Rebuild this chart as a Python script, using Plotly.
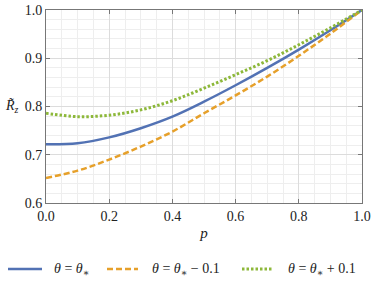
import plotly.graph_objects as go

p = [0.0, 0.1, 0.2, 0.3, 0.4, 0.5, 0.6, 0.7, 0.8, 0.9, 1.0]
r_star = [0.722, 0.724, 0.736, 0.755, 0.779, 0.810, 0.844, 0.880, 0.918, 0.958, 1.0]
r_minus = [0.652, 0.667, 0.690, 0.717, 0.748, 0.786, 0.823, 0.862, 0.905, 0.951, 1.0]
r_plus = [0.786, 0.779, 0.782, 0.793, 0.812, 0.838, 0.866, 0.895, 0.928, 0.963, 1.0]

names = ["<i>θ</i> = <i>θ</i><sub>∗</sub>",
         "<i>θ</i> = <i>θ</i><sub>∗</sub> − 0.1",
         "<i>θ</i> = <i>θ</i><sub>∗</sub> + 0.1"]
colors = ["#5272b4", "#e6a02a", "#8db83a"]
dashes = ["solid", "6px,3px", "2.5px,2px"]
widths = [2.5, 2.5, 3]

FONT = "Liberation Serif, DejaVu Serif, serif"
W, H = 373, 288
ML, MR, MT, MB = 46, 11, 10, 85
PW, PH = W - ML - MR, H - MT - MB

fig = go.Figure()
for y, n, c, d, w in zip([r_star, r_minus, r_plus], names, colors, dashes, widths):
    fig.add_trace(go.Scatter(x=p, y=y, mode="lines", name=n, showlegend=False,
                             line=dict(color=c, dash=d, width=w, shape="spline")))

axis_common = dict(showline=True, linecolor="#777", linewidth=1, mirror="ticks",
                   ticks="inside", ticklen=4, tickcolor="#777",
                   showgrid=True, gridcolor="#dcdcdc", gridwidth=1, zeroline=False,
                   ticklabeloverflow="allow",
                   tickfont=dict(family=FONT, size=14, color="#222"))
fig.update_xaxes(range=[0, 1], dtick=0.2, tickformat=".1f",
                 minor=dict(dtick=0.05, showgrid=True, gridcolor="#eeeeee", ticks=""),
                 title=dict(text="<i>p</i>", font=dict(family=FONT, size=15, color="#222"), standoff=4),
                 automargin=False, **axis_common)
fig.update_yaxes(range=[0.6, 1.0], dtick=0.1, tickformat=".1f",
                 minor=dict(dtick=0.02, showgrid=True, gridcolor="#eeeeee", ticks=""),
                 automargin=False, **axis_common)
fig.add_annotation(text="<i>R̃</i><sub><i>z</i></sub>", xref="paper", yref="paper",
                   x=-0.08, y=0.5, xanchor="right", yanchor="middle", showarrow=False,
                   font=dict(family=FONT, size=14, color="#222"))

# manual legend (pixel positions converted to paper coordinates)
def px(x):
    return (x - ML) / PW
def py(y):
    return (H - MB - y) / PH

leg_y = 269
samples = [(8, 42, 52), (107, 138, 150), (242, 273, 286)]
for (x0, x1, xt), n, c, d, w in zip(samples, names, colors, dashes, widths):
    fig.add_shape(type="line", xref="paper", yref="paper", x0=px(x0), x1=px(x1),
                  y0=py(leg_y), y1=py(leg_y), line=dict(color=c, dash=d, width=w))
    fig.add_annotation(text=n, xref="paper", yref="paper", x=px(xt), y=py(leg_y),
                       xanchor="left", yanchor="middle", showarrow=False,
                       font=dict(family=FONT, size=14, color="#222"))

fig.update_layout(width=W, height=H, margin=dict(l=ML, r=MR, t=MT, b=MB, autoexpand=False),
                  font=dict(family=FONT, size=14, color="#222"),
                  plot_bgcolor="white", paper_bgcolor="white", showlegend=False)
fig.write_html("out.html", config={"displayModeBar": False},
               post_script="document.body.style.margin='0';")
